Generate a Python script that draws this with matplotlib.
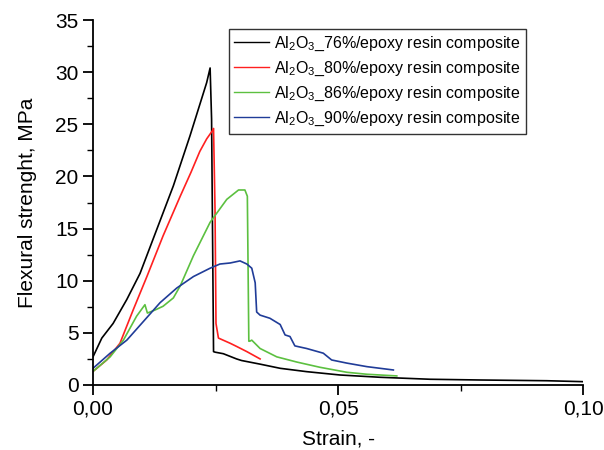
import matplotlib
matplotlib.use("Agg")
import matplotlib.pyplot as plt
from matplotlib.ticker import MultipleLocator, FuncFormatter

# Al2O3 76%
strain_76 = [0.0, 0.0018, 0.0041, 0.0069, 0.0096, 0.013, 0.0164, 0.0198, 0.0232, 0.0239,
             0.0242, 0.0246, 0.0249, 0.0266, 0.0293, 0.0303, 0.0341, 0.0382, 0.0436,
             0.0504, 0.0586, 0.0688, 0.079, 0.0926, 0.100]
stress_76 = [2.7, 4.5, 5.9, 8.2, 10.7, 14.9, 19.1, 23.9, 29.0, 30.4,
             25.5, 3.2, 3.15, 3.0, 2.5, 2.35, 2.0, 1.6, 1.28,
             0.96, 0.74, 0.55, 0.48, 0.41, 0.32]

# Al2O3 80%
strain_80 = [0.0, 0.0028, 0.0055, 0.0082, 0.011, 0.0143, 0.0178, 0.0200, 0.0218, 0.0232,
             0.0244, 0.0246, 0.0249, 0.0251, 0.0256, 0.028, 0.0293, 0.0314, 0.0341]
stress_80 = [1.3, 2.4, 4.0, 7.2, 10.4, 14.3, 18.1, 20.4, 22.4, 23.6,
             24.4, 24.6, 16.9, 5.9, 4.5, 4.0, 3.7, 3.2, 2.5]

# Al2O3 86%
strain_86 = [0.0, 0.0035, 0.0062, 0.0089, 0.0106, 0.0111, 0.0127, 0.0143, 0.0164, 0.0178,
             0.0205, 0.0239, 0.0273, 0.0297, 0.031, 0.0315, 0.0318, 0.032, 0.0324,
             0.0341, 0.0375, 0.0416, 0.0463, 0.0518, 0.0559, 0.062]
stress_86 = [1.3, 2.7, 4.3, 6.6, 7.7, 6.9, 7.2, 7.55, 8.35, 9.5,
             12.4, 15.6, 17.8, 18.7, 18.7, 18.1, 4.2, 4.2, 4.3,
             3.5, 2.7, 2.2, 1.7, 1.22, 1.03, 0.87]

# Al2O3 90%
strain_90 = [0.0, 0.0035, 0.0069, 0.0103, 0.0137, 0.0171, 0.0205, 0.0239, 0.0259, 0.028,
             0.03, 0.0314, 0.0324, 0.0331, 0.0334, 0.0341, 0.0361, 0.0382, 0.0392,
             0.0402, 0.0412, 0.0436, 0.047, 0.0487, 0.0518, 0.0559, 0.0613]
stress_90 = [1.6, 3.05, 4.3, 6.1, 7.9, 9.3, 10.4, 11.2, 11.6, 11.7,
             11.9, 11.6, 11.2, 9.8, 7.0, 6.7, 6.4, 5.8, 4.8,
             4.65, 3.75, 3.5, 3.05, 2.4, 2.1, 1.76, 1.44]

labels = ["Al$_2$O$_3$_76%/epoxy resin composite",
          "Al$_2$O$_3$_80%/epoxy resin composite",
          "Al$_2$O$_3$_86%/epoxy resin composite",
          "Al$_2$O$_3$_90%/epoxy resin composite"]
colors = ["#000000", "#ff2020", "#5cc040", "#203c98"]

plt.rcParams['font.family'] = ['Liberation Sans', 'DejaVu Sans']
plt.rcParams['mathtext.fontset'] = 'custom'
plt.rcParams['mathtext.rm'] = 'Liberation Sans'
plt.rcParams['mathtext.it'] = 'Liberation Sans'

fig = plt.figure(figsize=(6.04, 4.5), dpi=100)
ax = fig.add_axes([93/604, 65/450, 490/604, 365/450])

ax.plot(strain_76, stress_76, color=colors[0], lw=1.2, label=labels[0])
ax.plot(strain_80, stress_80, color=colors[1], lw=1.2, label=labels[1])
ax.plot(strain_86, stress_86, color=colors[2], lw=1.2, label=labels[2])
ax.plot(strain_90, stress_90, color=colors[3], lw=1.2, label=labels[3])

ax.set_xlim(0, 0.10)
ax.set_ylim(0, 35)
ax.spines['top'].set_visible(False)
ax.spines['right'].set_visible(False)
ax.spines['left'].set_linewidth(1.3)
ax.spines['bottom'].set_linewidth(1.3)

ax.xaxis.set_major_locator(MultipleLocator(0.05))
ax.xaxis.set_minor_locator(MultipleLocator(0.025))
ax.yaxis.set_major_locator(MultipleLocator(5))
ax.yaxis.set_minor_locator(MultipleLocator(2.5))
ax.xaxis.set_major_formatter(FuncFormatter(lambda v, p: f"{v:.2f}".replace(".", ",")))
ax.tick_params(which='major', length=7, width=1.3, labelsize=15, direction='out')
ax.tick_params(which='minor', length=4, width=1.0, direction='out')

ax.set_xlabel("Strain, -", fontsize=15, labelpad=8)
ax.set_ylabel("Flexural strenght, MPa", fontsize=15, labelpad=13)

leg = ax.legend(loc='upper left', bbox_to_anchor=(0.277, 0.975), fontsize=11.5,
                frameon=True, fancybox=False, edgecolor='black', handlelength=2.2,
                handletextpad=0.3, labelspacing=0.42, borderpad=0.35, borderaxespad=0)
leg.get_frame().set_linewidth(1.0)
for line in leg.get_lines():
    line.set_linewidth(1.0)

fig.savefig("out.png", dpi=100)
